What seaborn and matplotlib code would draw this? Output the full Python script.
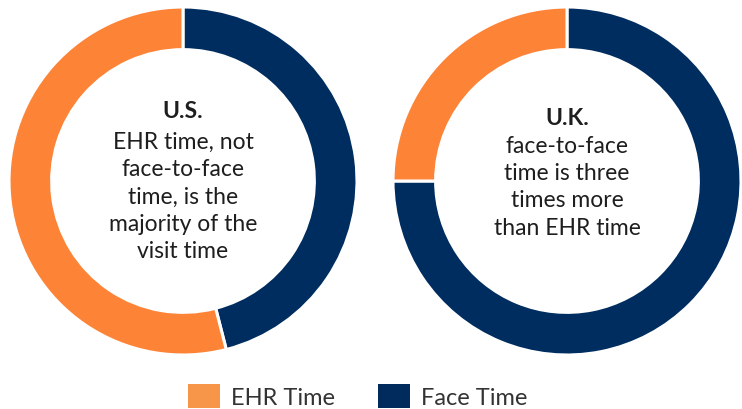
import matplotlib as mpl
mpl.use('Agg')
import matplotlib.pyplot as plt
from matplotlib.patches import Patch
import seaborn as sns

sns.set_theme(style='white')
plt.rcParams['font.family'] = ['Lato', 'DejaVu Sans']

# share of visit time, clockwise from 12 o'clock
segments = ['Face Time', 'EHR Time']
us_share = [46, 54]
uk_share = [75, 25]

titles = ['U.S.', 'U.K.']
captions = [["EHR time, not", "face-to-face", "time, is the",
             "majority of the", "visit time"],
            ["face-to-face", "time is three", "times more", "than EHR time"]]

pie_colors = {'Face Time': '#002D5F', 'EHR Time': '#FD8337'}
legend_colors = {'EHR Time': '#F79548', 'Face Time': '#002B5C'}
text_color = '#1E1E1E'

W, H = 742, 410
fig = plt.figure(figsize=(W / 100, H / 100), dpi=100)

r_px = 174
centers = [(183, 182), (567, 182)]
title_base = [118, 125]
body_base = [149, 153]
line_px = 27.2

for (cx, cy), share, title, caption, tb, bb in zip(
        centers, [us_share, uk_share], titles, captions,
        title_base, body_base):
    ax = fig.add_axes([(cx - r_px) / W, (H - cy - r_px) / H,
                       2 * r_px / W, 2 * r_px / H])
    ax.pie(share, colors=[pie_colors[s] for s in segments],
           startangle=90, counterclock=False, radius=1,
           wedgeprops=dict(width=0.245, edgecolor='white', linewidth=2.2))
    ax.set_xlim(-1, 1)
    ax.set_ylim(-1, 1)
    ax.set_aspect('equal')
    ax.axis('off')

    ax.text(0, (cy - tb) / r_px, title, ha='center', va='baseline',
            fontsize=16.5, weight='bold', color=text_color)
    for i, line in enumerate(caption):
        ax.text(0, (cy - bb - i * line_px) / r_px, line, ha='center',
                va='baseline', fontsize=16.5, color=text_color)

handles = [Patch(facecolor=legend_colors[s], edgecolor='none', label=s)
           for s in ['EHR Time', 'Face Time']]
leg = fig.legend(handles=handles, loc='lower center', ncol=2, frameon=False,
                 bbox_to_anchor=(0.482, -0.05), fontsize=17,
                 handlelength=1.35, handleheight=1.2, handletextpad=0.45,
                 columnspacing=1.85)
for t in leg.get_texts():
    t.set_color('#333333')

fig.savefig('out.png', dpi=100, facecolor='white')
